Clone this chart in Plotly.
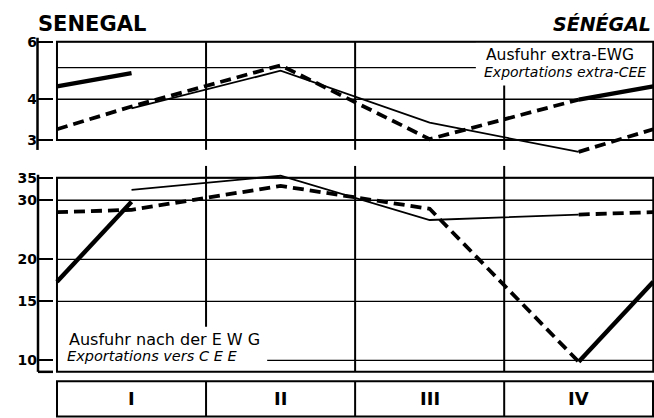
import math
import plotly.graph_objects as go

# ---------------------------------------------------------------- data
quarters = ["I", "II", "III", "IV"]

# Ausfuhr extra-EWG / Exportations extra-CEE (log scale)
extra_prev = [3.75, 4.89, 3.39, 2.76]   # thin solid line
extra_curr = [3.80, 5.08, 3.02, 3.99]   # dashed line
extra_next = [4.81]                     # thick solid line
extra_ticks = [6, 4, 3]
extra_grid = [6, 5, 4, 3]

# Ausfuhr nach der EWG / Exportations vers CEE (log scale)
ewg_prev = [32.2, 35.5, 26.2, 27.2]
ewg_curr = [28.1, 33.1, 28.3, 9.9]
ewg_next = [29.7]
ewg_ticks = [35, 30, 20, 15, 10]
ewg_grid = [35, 30, 20, 15, 10]

# ---------------------------------------------------------------- page geometry
W, H = 654, 418
FONT = "DejaVu Sans"


def py(pixel_y):
    """pixel row -> paper y"""
    return 1 - pixel_y / H


def px(pixel_x):
    return pixel_x / W


mids = [i + 0.5 for i in range(len(quarters))]


def edge(a, b):
    # straight segment on log paper: value halfway between two quarters
    return math.sqrt(a * b)


def panel(prev, curr, nxt, yaxis):
    traces = []
    # previous year: thin solid
    traces.append(go.Scatter(
        x=mids[:len(prev)], y=prev, mode="lines", yaxis=yaxis, xaxis="x",
        line=dict(color="black", width=1.8), hoverinfo="skip", showlegend=False))
    # current year: dashed, joined to the previous year across the year end
    j = edge(prev[-1], curr[0])
    traces.append(go.Scatter(
        x=[0] + mids[:len(curr)] + [None, mids[-1], 4],
        y=[j] + curr + [None, prev[-1], j],
        mode="lines", yaxis=yaxis, xaxis="x",
        line=dict(color="black", width=3.8, dash="11px,6px"),
        hoverinfo="skip", showlegend=False))
    # following year: thick solid
    k = edge(curr[-1], nxt[0])
    traces.append(go.Scatter(
        x=[0] + mids[:len(nxt)] + [None, mids[-1], 4],
        y=[k] + nxt + [None, curr[-1], k],
        mode="lines", yaxis=yaxis, xaxis="x",
        line=dict(color="black", width=4.4),
        hoverinfo="skip", showlegend=False))
    return traces


fig = go.Figure()
for t in panel(extra_prev, extra_curr, extra_next, "y"):
    fig.add_trace(t)
for t in panel(ewg_prev, ewg_curr, ewg_next, "y2"):
    fig.add_trace(t)

# ---------------------------------------------------------------- axes
TOP_LO, TOP_HI = 2.7, 6.2
BOT_LO, BOT_HI = 9.1, 38.0
BOT_FLOOR = 9.25

axis_common = dict(
    type="log", anchor="free", position=px(37), side="left",
    ticks="inside", ticklen=15, tickwidth=2, tickcolor="black",
    showgrid=False, zeroline=False, showline=False,
    tickfont=dict(family=FONT, size=14, color="black", weight="bold"),
    fixedrange=True,
)

fig.update_layout(
    width=W, height=H,
    margin=dict(l=0, r=0, t=0, b=0),
    paper_bgcolor="white", plot_bgcolor="rgba(0,0,0,0)",
    showlegend=False,
    xaxis=dict(domain=[px(54), 1], range=[-0.02, 4.005], visible=False,
               anchor="y2", fixedrange=True),
    yaxis=dict(domain=[py(153.1), py(34.3)],
               range=[math.log10(TOP_LO), math.log10(TOP_HI)],
               tickvals=extra_ticks, ticktext=[str(v) for v in extra_ticks],
               **axis_common),
    yaxis2=dict(domain=[py(373.8), py(164)],
                range=[math.log10(BOT_LO), math.log10(BOT_HI)],
                tickvals=ewg_ticks, ticktext=[str(v) for v in ewg_ticks],
                **axis_common),
)

# ---------------------------------------------------------------- grid, frames
shapes = []
line_grid = dict(color="black", width=1.3)
line_frame = dict(color="black", width=2)

# upper panel
for v in extra_grid:
    shapes.append(dict(type="line", xref="x", yref="y", x0=0, x1=4, y0=v, y1=v,
                       line=line_grid, layer="below"))
for q in range(1, len(quarters)):
    shapes.append(dict(type="line", xref="x", yref="y", x0=q, x1=q, y0=6, y1=2.8,
                       line=line_frame, layer="below"))
# white panel behind the upper caption
shapes.append(dict(type="rect", xref="x", yref="y", x0=2.81, x1=4.005, y0=4.41, y1=6,
                   fillcolor="white", line=dict(width=0), layer="below"))
shapes.append(dict(type="rect", xref="x", yref="y", x0=0, x1=4, y0=3, y1=6,
                   line=line_frame, layer="below"))

# lower panel
for v in ewg_grid:
    shapes.append(dict(type="line", xref="x", yref="y2", x0=0, x1=4, y0=v, y1=v,
                       line=line_grid, layer="below"))
for q in range(1, len(quarters)):
    shapes.append(dict(type="line", xref="x", yref="y2", x0=q, x1=q, y0=BOT_HI, y1=BOT_FLOOR,
                       line=line_frame, layer="below"))
# white panel behind the lower caption
shapes.append(dict(type="rect", xref="x", yref="y2", x0=0, x1=1.41, y0=BOT_FLOOR, y1=12.6,
                   fillcolor="white", line=dict(width=0), layer="below"))
shapes.append(dict(type="rect", xref="x", yref="y2", x0=0, x1=4, y0=BOT_FLOOR, y1=35,
                   line=line_frame, layer="below"))

# vertical scale bars left of each panel
spine = dict(color="black", width=2.5)
shapes.append(dict(type="line", xref="paper", yref="paper", x0=px(37.5), x1=px(37.5),
                   y0=py(35), y1=py(148), line=spine))
shapes.append(dict(type="line", xref="paper", yref="paper", x0=px(38), x1=px(38),
                   y0=py(173), y1=py(371.5), line=spine))
shapes.append(dict(type="line", xref="paper", yref="paper", x0=px(38), x1=px(53),
                   y0=py(371.5), y1=py(371.5), line=spine))

# quarter label strip
shapes.append(dict(type="rect", xref="paper", yref="paper", x0=px(57), x1=px(653),
                   y0=py(416.5), y1=py(381), line=line_frame))
for q in range(1, len(quarters)):
    shapes.append(dict(type="line", xref="x", yref="paper", x0=q, x1=q,
                       y0=py(416.5), y1=py(381), line=line_frame))

fig.update_layout(shapes=shapes)

# ---------------------------------------------------------------- text
ann = []
for m, lab in zip(mids, quarters):
    ann.append(dict(x=m, y=py(398.5), xref="x", yref="paper", text=lab, showarrow=False,
                    xanchor="center", yanchor="middle",
                    font=dict(family=FONT, size=18, color="black", weight="bold")))

ann.append(dict(x=px(36), y=py(21), xref="paper", yref="paper", text="SENEGAL",
                showarrow=False, xanchor="left", yanchor="middle",
                font=dict(family=FONT, size=21, color="black", weight="bold")))
ann.append(dict(x=px(653), y=py(21), xref="paper", yref="paper", text="<i>SÉNÉGAL</i>",
                showarrow=False, xanchor="right", yanchor="middle",
                font=dict(family=FONT, size=19, color="black", weight="bold")))

ann.append(dict(x=px(484), y=py(52), xref="paper", yref="paper", text="Ausfuhr extra-EWG",
                showarrow=False, xanchor="left", yanchor="middle",
                font=dict(family=FONT, size=15.5, color="black")))
ann.append(dict(x=px(482), y=py(70), xref="paper", yref="paper",
                text="<i>Exportations extra-CEE</i>",
                showarrow=False, xanchor="left", yanchor="middle",
                font=dict(family=FONT, size=14, color="black")))

ann.append(dict(x=px(67), y=py(338.5), xref="paper", yref="paper",
                text="Ausfuhr nach der E W G",
                showarrow=False, xanchor="left", yanchor="middle",
                font=dict(family=FONT, size=16, color="black")))
ann.append(dict(x=px(65), y=py(356), xref="paper", yref="paper",
                text="<i>Exportations vers C E E</i>",
                showarrow=False, xanchor="left", yanchor="middle",
                font=dict(family=FONT, size=14.5, color="black")))

fig.update_layout(annotations=ann)

fig.write_html("out.html")
